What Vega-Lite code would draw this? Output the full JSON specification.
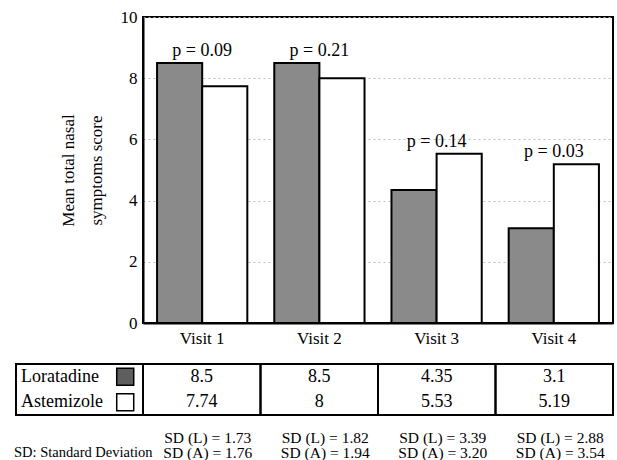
{
  "$schema": "https://vega.github.io/schema/vega-lite/v6.json",
  "padding": {"left": 13, "top": 7, "right": 0, "bottom": 0},
  "config": {
    "font": "'Liberation Serif', 'Times New Roman', serif",
    "view": {"stroke": null},
    "text": {"font": "'Liberation Serif', 'Times New Roman', serif"},
    "axis": {"labelColor": "black", "titleColor": "black", "labelFont": "'Liberation Serif', 'Times New Roman', serif", "titleFont": "'Liberation Serif', 'Times New Roman', serif"}
  },
  "datasets": {
    "means": [
      {"visit": "Visit 1", "drug": "Loratadine", "mean": 8.5, "sd": 1.73},
      {"visit": "Visit 1", "drug": "Astemizole", "mean": 7.74, "sd": 1.76},
      {"visit": "Visit 2", "drug": "Loratadine", "mean": 8.5, "sd": 1.82},
      {"visit": "Visit 2", "drug": "Astemizole", "mean": 8, "sd": 1.94},
      {"visit": "Visit 3", "drug": "Loratadine", "mean": 4.35, "sd": 3.39},
      {"visit": "Visit 3", "drug": "Astemizole", "mean": 5.53, "sd": 3.20},
      {"visit": "Visit 4", "drug": "Loratadine", "mean": 3.1, "sd": 2.88},
      {"visit": "Visit 4", "drug": "Astemizole", "mean": 5.19, "sd": 3.54}
    ],
    "pvals": [
      {"visit": "Visit 1", "p": 0.09},
      {"visit": "Visit 2", "p": 0.21},
      {"visit": "Visit 3", "p": 0.14},
      {"visit": "Visit 4", "p": 0.03}
    ]
  },
  "columns": 2,
  "spacing": {"row": 41, "column": 0},
  "bounds": "flush",
  "concat": [
    {
      "width": 127,
      "height": 306,
      "data": {"values": [{}]},
      "mark": {"type": "text"},
      "encoding": {"text": {"value": ""}}
    },
    {
      "width": 470,
      "height": 306,
      "view": {"stroke": "black", "strokeWidth": 2},
      "data": {"name": "means"},
      "layer": [
        {
          "mark": {"type": "bar", "stroke": "black", "strokeWidth": 2},
          "encoding": {
            "x": {
              "field": "visit", "type": "nominal",
              "scale": {"paddingInner": 0.23, "paddingOuter": 0.12},
              "axis": {"title": null, "labelAngle": 0, "labelFontSize": 17, "labelPadding": 7, "ticks": false, "domainColor": "black", "domainWidth": 2}
            },
            "xOffset": {"field": "drug", "sort": ["Loratadine", "Astemizole"]},
            "y": {
              "field": "mean", "type": "quantitative",
              "scale": {"domain": [0, 10], "nice": false},
              "axis": {
                "title": ["Mean total nasal", "symptoms score"],
                "values": [0, 2, 4, 6, 8, 10],
                "grid": true, "gridColor": "#bbbbbb", "gridDash": [2, 3],
                "ticks": false, "labelPadding": 6, "labelFontSize": 17,
                "titleFontSize": 17, "titleFontWeight": "normal", "titleLineHeight": 28, "titlePadding": 15,
                "domainColor": "black", "domainWidth": 2
              }
            },
            "color": {
              "field": "drug",
              "scale": {"domain": ["Loratadine", "Astemizole"], "range": ["#8a8a8a", "#ffffff"]},
              "legend": null
            }
          }
        },
        {
          "transform": [
            {"aggregate": [{"op": "max", "field": "mean", "as": "top"}], "groupby": ["visit"]},
            {"lookup": "visit", "from": {"data": {"name": "pvals"}, "key": "visit", "fields": ["p"]}},
            {"calculate": "'p = ' + format(datum.p, '.2f')", "as": "plabel"}
          ],
          "mark": {"type": "text", "fontSize": 18, "dy": -12, "color": "black"},
          "encoding": {
            "x": {"field": "visit", "type": "nominal"},
            "y": {"field": "top", "type": "quantitative"},
            "text": {"field": "plabel"}
          }
        }
      ]
    },
    {
      "width": 127,
      "height": 51,
      "view": {"stroke": "black", "strokeWidth": 2},
      "data": {"name": "means"},
      "transform": [{"filter": "datum.visit == 'Visit 1'"}],
      "encoding": {
        "y": {"field": "drug", "type": "nominal", "sort": ["Loratadine", "Astemizole"], "scale": {"type": "band", "paddingInner": 0, "paddingOuter": 0}, "axis": null}
      },
      "layer": [
        {
          "mark": {"type": "text", "align": "left", "fontSize": 18, "color": "black"},
          "encoding": {
            "x": {"datum": "cell", "type": "nominal", "bandPosition": 0.04, "scale": {"type": "band", "paddingInner": 0, "paddingOuter": 0}, "axis": null},
            "text": {"field": "drug"}
          }
        },
        {
          "mark": {"type": "point", "shape": "square", "size": 289, "filled": true, "stroke": "black", "strokeWidth": 1.5, "opacity": 1},
          "encoding": {
            "x": {"datum": "cell", "type": "nominal", "bandPosition": 0.86, "scale": {"type": "band", "paddingInner": 0, "paddingOuter": 0}, "axis": null},
            "fill": {"field": "drug", "scale": {"domain": ["Loratadine", "Astemizole"], "range": ["#5e5e5e", "#ffffff"]}, "legend": null}
          }
        },
        {
          "data": {"values": [{"label": "SD: Standard Deviation"}]},
          "mark": {"type": "text", "align": "left", "fontSize": 14.5, "dx": -2, "dy": 51, "color": "black"},
          "encoding": {
            "x": {"datum": "cell", "type": "nominal", "bandPosition": 0, "scale": {"type": "band", "paddingInner": 0, "paddingOuter": 0}, "axis": null},
            "y": {"datum": "Astemizole", "type": "nominal"},
            "text": {"field": "label"}
          }
        }
      ]
    },
    {
      "width": 470,
      "height": 51,
      "view": {"stroke": "black", "strokeWidth": 2},
      "data": {"name": "means"},
      "transform": [
        {"calculate": "'SD (' + (datum.drug == 'Loratadine' ? 'L' : 'A') + ') = ' + format(datum.sd, '.2f')", "as": "sdLabel"}
      ],
      "encoding": {
        "x": {"field": "visit", "type": "nominal", "scale": {"type": "band", "paddingInner": 0, "paddingOuter": 0}, "axis": null}
      },
      "layer": [
        {
          "mark": {"type": "rule", "stroke": "black", "strokeWidth": 2},
          "encoding": {"x": {"field": "visit", "type": "nominal", "bandPosition": 0}}
        },
        {
          "mark": {"type": "text", "fontSize": 18, "color": "black"},
          "encoding": {
            "y": {"field": "drug", "type": "nominal", "sort": ["Loratadine", "Astemizole"], "scale": {"type": "band", "paddingInner": 0, "paddingOuter": 0}, "axis": null},
            "text": {"field": "mean", "type": "nominal"}
          }
        },
        {
          "transform": [{"filter": "datum.drug == 'Loratadine'"}],
          "mark": {"type": "text", "fontSize": 15.5, "dy": 61, "dx": 6, "color": "black"},
          "encoding": {
            "y": {"field": "drug", "type": "nominal", "sort": ["Loratadine", "Astemizole"], "scale": {"type": "band", "paddingInner": 0, "paddingOuter": 0}, "axis": null},
            "text": {"field": "sdLabel"}
          }
        },
        {
          "transform": [{"filter": "datum.drug == 'Astemizole'"}],
          "mark": {"type": "text", "fontSize": 15.5, "dy": 51, "dx": 6, "color": "black"},
          "encoding": {
            "y": {"field": "drug", "type": "nominal", "sort": ["Loratadine", "Astemizole"], "scale": {"type": "band", "paddingInner": 0, "paddingOuter": 0}, "axis": null},
            "text": {"field": "sdLabel"}
          }
        }
      ]
    }
  ]
}
